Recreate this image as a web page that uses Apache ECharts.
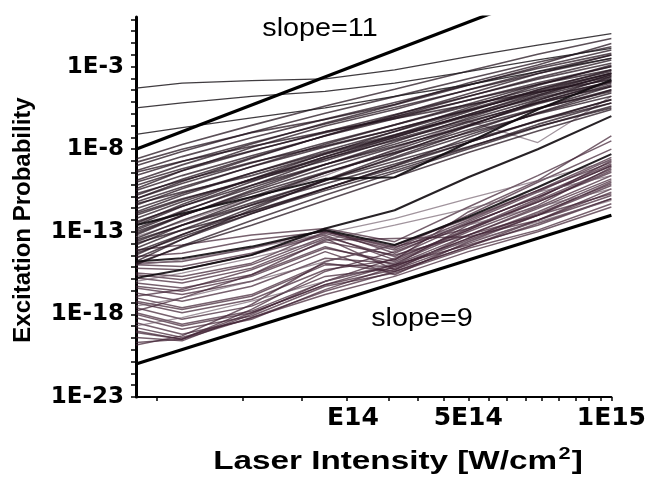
<!DOCTYPE html>
<html>
<head>
<meta charset="utf-8">
<script src="https://cdn.jsdelivr.net/npm/echarts@6/dist/echarts.min.js"></script>
<style>
  html, body { margin: 0; padding: 0; background: #ffffff; }
  #chart { width: 649px; height: 493px; }
</style>
</head>
<body>
<div id="chart"></div>
<script>
// Laser intensities (W/cm^2) at which each curve is sampled
const intensity = [1e14, 1.25e14, 1.75e14, 2.5e14, 3.5e14, 5e14, 7e14, 1e15];

// log10 of the excitation probability, one row per curve
const topCurves = [
  [-4.3, -4.0, -3.85, -3.75, -3.2, -2.4, -1.7, -1.0],
  [-5.5, -5.2, -4.8, -4.5, -4.0, -3.3, -2.6, -1.9],
  [-7.1, -6.7, -6.1, -5.5, -4.8, -4.1, -3.3, -2.5]
];

const upperBand = [
  [-8.6, -7.72, -6.56, -5.39, -4.37, -3.27, -2.25, -1.3],
  [-9.0, -8.14, -6.98, -5.83, -4.82, -3.74, -2.74, -1.8],
  [-9.3, -8.45, -7.31, -6.18, -5.18, -4.12, -3.12, -2.2],
  [-9.6, -8.75, -7.61, -6.48, -5.48, -4.42, -3.42, -2.5],
  [-9.9, -8.95, -7.69, -6.42, -5.32, -4.13, -3.03, -2.0],
  [-10.2, -9.31, -8.13, -6.94, -5.91, -4.8, -3.76, -2.8],
  [-10.5, -9.6, -8.4, -7.2, -6.15, -5.03, -3.98, -3.0],
  [-10.8, -9.82, -8.5, -7.19, -6.04, -4.81, -3.67, -2.6],
  [-11.0, -10.08, -8.84, -7.61, -6.53, -5.38, -4.3, -3.3],
  [-11.2, -10.29, -9.07, -7.86, -6.79, -5.65, -4.59, -3.6],
  [-11.4, -10.39, -9.05, -7.7, -6.53, -5.27, -4.09, -3.0],
  [-11.6, -10.68, -9.44, -8.21, -7.13, -5.98, -4.9, -3.9],
  [-11.8, -10.79, -9.45, -8.1, -6.93, -5.67, -4.49, -3.4],
  [-12.0, -11.06, -9.82, -8.57, -7.48, -6.31, -5.21, -4.2],
  [-12.2, -11.18, -9.82, -8.46, -7.27, -6.0, -4.81, -3.7],
  [-12.4, -11.45, -10.19, -8.92, -7.82, -6.63, -5.53, -4.5],
  [-12.6, -11.47, -9.97, -8.46, -7.15, -5.74, -4.42, -3.2],
  [-12.8, -11.74, -10.34, -8.93, -7.7, -6.38, -5.14, -4.0],
  [-13.0, -12.02, -10.7, -9.39, -8.24, -7.01, -5.87, -4.8],
  [-13.2, -12.04, -10.48, -8.93, -7.57, -6.12, -4.76, -3.5],
  [-13.4, -12.32, -10.88, -9.44, -8.18, -6.83, -5.57, -4.4],
  [-13.6, -12.59, -11.25, -9.9, -8.73, -7.47, -6.29, -5.2],
  [-13.8, -12.61, -11.03, -9.44, -8.06, -6.57, -5.19, -3.9],
  [-14.0, -12.87, -11.37, -9.86, -8.55, -7.14, -5.82, -4.6],
  [-14.2, -13.16, -11.76, -10.37, -9.15, -7.85, -6.63, -5.5],
  [-14.4, -13.18, -11.54, -9.91, -8.48, -6.95, -5.53, -4.2],
  [-14.6, -13.45, -11.91, -10.38, -9.03, -7.59, -6.25, -5.0],
  [-14.8, -13.46, -11.66, -9.87, -8.3, -6.62, -5.06, -3.6],
  [-10.0, -9.18, -8.1, -7.01, -6.06, -5.04, -4.08, -3.2],
  [-11.0, -9.96, -8.56, -7.17, -5.95, -4.65, -3.43, -2.3],
  [-12.5, -11.35, -9.81, -8.28, -6.93, -5.49, -4.15, -2.9],
  [-13.1, -12.02, -10.58, -9.14, -7.88, -6.53, -5.27, -4.1],
  [-9.4, -8.73, -7.83, -6.94, -6.15, -5.31, -4.53, -3.8],
  [-15.0, -13.85, -12.31, -10.78, -9.43, -7.99, -6.65, -5.4],
  [-8.8, -8.0, -7.0, -6.2, -5.3, -4.0, -2.9, -1.6],
  [-10.4, -9.3, -7.9, -6.6, -5.6, -4.4, -3.3, -2.3],
  [-11.9, -11.0, -9.9, -8.7, -7.4, -6.2, -5.0, -3.9],
  [-12.9, -11.8, -10.2, -8.6, -7.3, -5.9, -4.6, -3.4],
  [-13.5, -12.6, -11.4, -10.1, -8.9, -7.6, -6.3, -5.0],
  [-14.3, -13.3, -11.9, -10.5, -9.3, -7.9, -6.5, -5.2],
  [-11.3, -10.6, -9.6, -8.3, -7.2, -5.9, -4.7, -3.5],
  [-14.9, -13.9, -12.6, -11.1, -9.7, -8.2, -6.9, -5.6],
  [-10.7, -9.9, -8.8, -7.8, -6.8, -5.6, -4.4, -3.4],
  [-13.7, -12.9, -11.8, -10.4, -9.0, -7.3, -5.8, -4.4]
];

const lowerBand = [
  [-14.1, -13.8, -13.2, -12.8, -13.6, -11.5, -9.6, -7.5],
  [-14.5, -14.3, -13.5, -13.0, -14.0, -12.0, -10.0, -8.0],
  [-14.9, -14.8, -14.0, -12.9, -14.3, -12.4, -10.6, -8.6],
  [-15.2, -15.3, -14.4, -13.2, -14.7, -11.8, -9.9, -7.2],
  [-15.5, -15.7, -14.9, -13.0, -13.9, -12.8, -11.2, -9.3],
  [-15.8, -16.1, -15.2, -13.4, -15.3, -13.2, -11.5, -9.6],
  [-16.1, -16.4, -15.6, -13.9, -15.0, -12.6, -10.8, -8.9],
  [-16.4, -16.8, -16.0, -14.2, -15.6, -13.6, -12.0, -10.0],
  [-16.7, -17.2, -16.3, -14.6, -14.9, -13.0, -11.4, -9.1],
  [-17.0, -17.6, -16.8, -14.9, -15.4, -13.9, -12.3, -10.4],
  [-17.3, -17.9, -17.1, -15.3, -14.7, -12.8, -11.0, -8.7],
  [-17.6, -18.3, -17.5, -15.7, -15.2, -13.5, -12.0, -10.2],
  [-17.9, -18.6, -17.8, -16.0, -15.0, -13.8, -12.6, -11.0],
  [-18.2, -18.9, -18.1, -16.3, -15.5, -14.0, -12.9, -11.3],
  [-18.5, -19.2, -18.3, -16.5, -15.1, -13.4, -11.9, -10.1],
  [-18.8, -19.4, -18.2, -16.8, -15.7, -14.2, -13.0, -11.5],
  [-19.1, -19.5, -17.9, -16.2, -15.0, -13.2, -11.6, -9.8],
  [-19.4, -19.6, -18.0, -16.0, -14.6, -12.9, -11.2, -9.4],
  [-19.7, -19.5, -17.7, -15.4, -14.2, -12.5, -10.9, -9.0],
  [-19.85, -19.3, -17.4, -14.8, -13.8, -12.2, -10.5, -8.5],
  [-17.8, -17.0, -15.6, -13.5, -13.4, -13.3, -12.3, -10.8],
  [-16.9, -16.5, -15.3, -13.6, -14.4, -13.2, -12.0, -10.7],
  [-15.0, -15.1, -14.3, -13.1, -14.1, -12.3, -10.5, -8.8],
  [-16.3, -16.6, -15.7, -14.0, -14.8, -12.9, -11.1, -9.2],
  [-17.2, -17.7, -16.9, -15.0, -15.1, -13.4, -11.8, -9.9],
  [-18.0, -18.7, -17.9, -16.2, -15.3, -13.7, -12.3, -10.6],
  [-19.0, -19.5, -18.2, -16.6, -15.4, -13.9, -12.5, -11.0],
  [-15.6, -15.9, -15.0, -13.3, -14.5, -12.5, -10.9, -9.0]
];

const faintCurves = [
  [-16.0, -15.5, -14.6, -13.5, -12.6, -11.6, -10.6, -9.6],
  [-17.5, -17.0, -16.0, -14.8, -13.8, -12.6, -11.5, -10.4],
  [-18.7, -18.2, -17.2, -16.0, -14.9, -13.6, -12.4, -11.1],
  [-15.0, -14.7, -14.0, -13.1, -12.2, -11.0, -9.9, -8.7],
  [-13.3, -12.4, -11.0, -9.6, -8.0, -6.3, -7.6, -4.8]
];

const boldCurves = [
  [-15.8, -15.3, -14.4, -12.8, -11.7, -9.7, -8.0, -6.0],
  [-12.6, -11.9, -10.9, -9.8, -9.7, -7.6, -5.6, -3.8],
  [-14.8, -14.6, -13.9, -12.9, -13.8, -12.1, -10.3, -8.3]
];

// Reference power laws: log10 P = start + slope * log10(I / 1E14)
const slopes = [11, 9];
const slopeStart = [-8, -21];
const slopeLabels = ['slope=11', 'slope=9'];

// Axis ticks and labels
const yLabelExps = [-23, -18, -13, -8, -3];
const xLabelText = ['E14', '5E14', '1E15'];
const xLabelAt = [2.86e14, 5e14, 1e15];
const xTickAt = [1.107e14, 1.675e14, 2.23e14, 2.78e14, 3.40e14, 3.92e14, 4.45e14, 5e14,
                 5.52e14, 6.03e14, 6.6e14, 7.13e14, 7.74e14, 8.41e14, 8.95e14, 9.48e14, 1e15];

const lx = intensity.map(v => Math.log10(v));
const xLabelPos = xLabelAt.map(v => +Math.log10(v).toFixed(4));
const xTickPos = xTickAt.map(v => +Math.log10(v).toFixed(4));
const yTickPos = [];
for (let k = 0; k <= 32; k++) yTickPos.push(+(-23 + k * 5 / 7).toFixed(4));

function curveSeries(rows, color, width, opacity) {
  return rows.map(row => ({
    type: 'line',
    data: row.map((p, i) => [lx[i], p]),
    symbol: 'none',
    silent: true,
    clip: true,
    z: 2,
    lineStyle: { color: color, width: width, opacity: opacity }
  }));
}

const series = [].concat(
  curveSeries(lowerBand, '#432436', 1.5, 0.72),
  curveSeries(faintCurves, '#6e5a69', 1.3, 0.65),
  curveSeries(upperBand, '#24141f', 1.6, 0.75),
  curveSeries(topCurves, '#1f1a1e', 1.3, 0.85),
  curveSeries(boldCurves, '#100a0e', 2.1, 0.9),
  slopes.map((s, i) => ({
    type: 'line',
    name: slopeLabels[i],
    data: [[14, slopeStart[i]], [15, slopeStart[i] + s * (15 - 14)]],
    symbol: 'none',
    silent: true,
    clip: true,
    z: 5,
    lineStyle: { color: '#000000', width: 3.2 }
  }))
);

const chart = echarts.init(document.getElementById('chart'), null, { renderer: 'canvas' });
chart.setOption({
  animation: false,
  backgroundColor: '#ffffff',
  grid: { left: 136, right: 36, top: 17, bottom: 96, containLabel: false },
  xAxis: {
    type: 'value',
    min: 14,
    max: 15,
    axisLine: { show: true, onZero: false, lineStyle: { color: '#000', width: 2 } },
    axisTick: { show: true, length: 4, customValues: xTickPos, lineStyle: { color: '#000', width: 1.5 } },
    axisLabel: {
      customValues: xLabelPos,
      formatter: v => {
        const i = xLabelPos.findIndex(p => Math.abs(p - v) < 1e-3);
        return i >= 0 ? xLabelText[i] : '';
      },
      margin: 9,
      color: '#000',
      fontFamily: 'DejaVu Sans',
      fontWeight: 'bold',
      fontSize: 25
    },
    splitLine: { show: false }
  },
  yAxis: {
    type: 'value',
    min: -23,
    max: 0,
    axisLine: { show: true, onZero: false, lineStyle: { color: '#000', width: 3 } },
    axisTick: { show: true, length: 5, customValues: yTickPos, lineStyle: { color: '#000', width: 1.5 } },
    axisLabel: {
      customValues: yLabelExps,
      formatter: v => '1E' + v,
      margin: 12,
      color: '#000',
      fontFamily: 'DejaVu Sans',
      fontWeight: 'bold',
      fontSize: 23
    },
    splitLine: { show: false }
  },
  series: series,
  graphic: [
    {
      type: 'text', x: 320, y: 29, z: 10,
      style: { text: slopeLabels[0], align: 'center', verticalAlign: 'middle',
               fontFamily: 'Liberation Sans', fontSize: 25, fill: '#000' },
      scaleX: 1.15
    },
    {
      type: 'text', x: 422, y: 319, z: 10,
      style: { text: slopeLabels[1], align: 'center', verticalAlign: 'middle',
               fontFamily: 'Liberation Sans', fontSize: 25, fill: '#000' },
      scaleX: 1.15
    },
    {
      type: 'text', x: 23, y: 220, rotation: Math.PI / 2, z: 10,
      style: { text: 'Excitation Probability', align: 'center', verticalAlign: 'middle',
               fontFamily: 'Liberation Sans', fontWeight: 'bold', fontSize: 24, fill: '#000' }
    },
    {
      type: 'text', x: 398, y: 462, z: 10,
      style: {
        text: '{a|Laser Intensity [W/cm}{s|2}{a|]}',
        align: 'center', verticalAlign: 'middle',
        rich: {
          a: { fontFamily: 'Liberation Sans', fontWeight: 'bold', fontSize: 26, fill: '#000' },
          s: { fontFamily: 'Liberation Sans', fontWeight: 'bold', fontSize: 17, fill: '#000', padding: [0, 1, 15, 1] }
        }
      },
      scaleX: 1.28
    }
  ]
});
</script>
</body>
</html>
